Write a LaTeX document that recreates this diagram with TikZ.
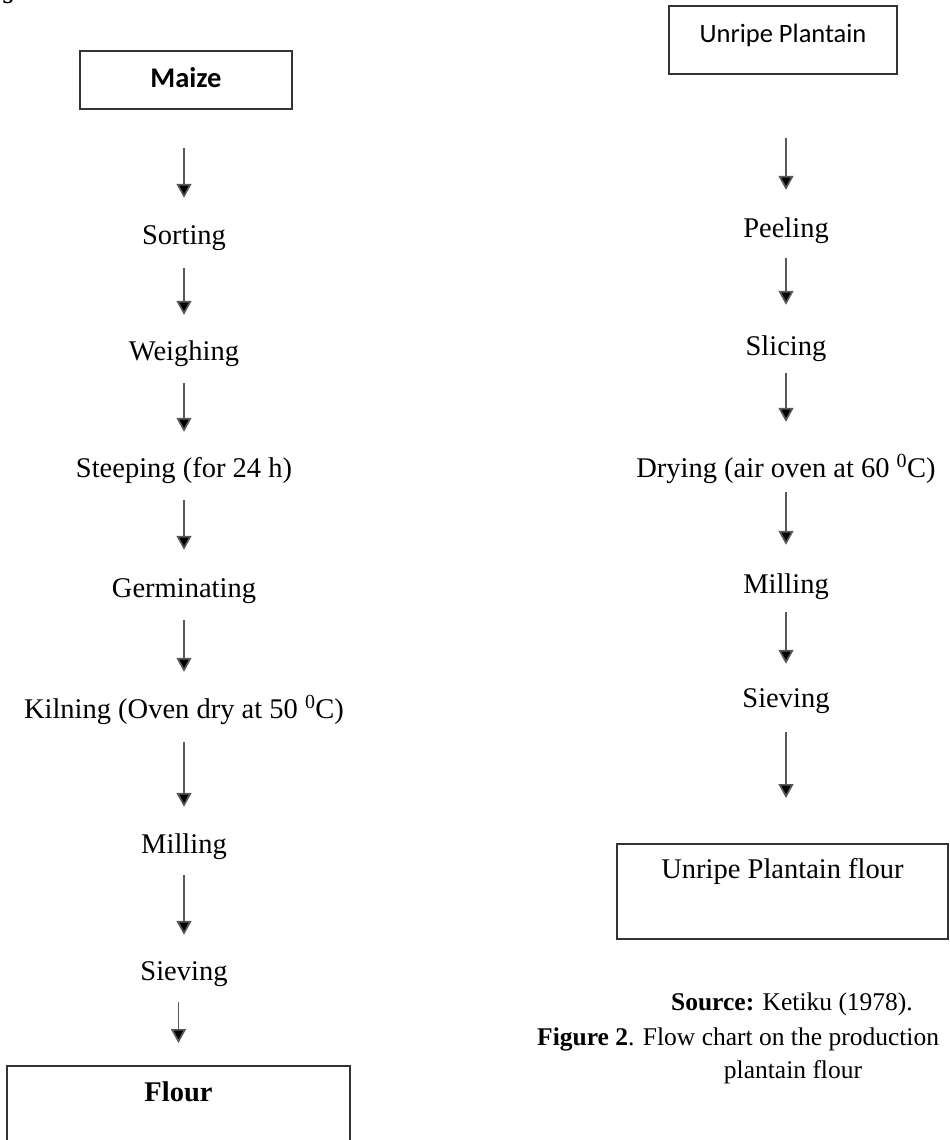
\documentclass[tikz,border=0pt]{standalone}
\usepackage{fontspec}
\setmainfont{Liberation Serif}
\newfontfamily\calfont{Carlito}
\usetikzlibrary{arrows.meta}
\tikzset{
  stepnode/.style={inner sep=0pt, text height=20pt, text depth=6pt, anchor=base,
    font=\fontsize{28.5}{34}\selectfont},
  boxnode/.style={draw=black!80, line width=2pt, inner xsep=0pt, inner ysep=0pt, anchor=north},
  flow/.style={draw=black!65, line width=1.7pt, -{Triangle[width=15pt,length=14pt,fill=black]}},
  captext/.style={inner sep=0pt, anchor=base, font=\fontsize{25.5}{30}\selectfont},
}
\begin{document}
\begin{tikzpicture}[x=1pt,y=-1pt]
\useasboundingbox (0,0) rectangle (950,1140);
\clip (0,0) rectangle (950,1140);
\node[inner sep=0pt, anchor=base, font=\fontsize{28}{34}\selectfont\bfseries] (frag) at (8,4) {s};
% ---------- left column ----------
\node[boxnode, minimum width=212pt, text height=37pt, text depth=21pt,
      font=\calfont\bfseries\fontsize{28.5}{34}\selectfont] (maize) at (186,50) {Maize};
\node[stepnode] (sort)  at (184,244) {Sorting};
\node[stepnode] (weigh) at (184,360) {Weighing};
\node[stepnode] (steep) at (184,477) {Steeping (for 24 h)};
\node[stepnode] (germ)  at (184,597) {Germinating};
\node[stepnode] (kiln)  at (184,718) {Kilning (Oven dry at 50 \textsuperscript{0}C)};
\node[stepnode] (millL) at (184,853) {Milling};
\node[stepnode] (sievL) at (184,980) {Sieving};
\node[boxnode, minimum width=343pt, text height=35pt, text depth=60pt,
      font=\bfseries\fontsize{28.5}{34}\selectfont] (flour) at (178.5,1065) {Flour};
\draw[flow, shorten <=38pt, shorten >=26pt] (maize.south -| sort.north) -- (sort.north);
\draw[flow, shorten <=18pt, shorten >=25pt] (sort.south) -- (weigh.north);
\draw[flow, shorten <=17pt, shorten >=25pt] (weigh.south) -- (steep.north);
\draw[flow, shorten <=17pt, shorten >=27pt] (steep.south) -- (germ.north);
\draw[flow, shorten <=17pt, shorten >=26pt] (germ.south) -- (kiln.north);
\draw[flow, shorten <=18pt, shorten >=26pt] (kiln.south) -- (millL.north);
\draw[flow, shorten <=16pt, shorten >=25pt] (millL.south) -- (sievL.north);
\draw[flow, shorten <=16pt, shorten >=22pt] (sievL.south -| flour.north) -- (flour.north);
% ---------- right column ----------
\node[boxnode, minimum width=228pt, text height=36.5pt, text depth=31.5pt,
      font=\calfont\fontsize{26.5}{32}\selectfont] (upl) at (783,5) {Unripe Plantain};
\node[stepnode] (peel)  at (786,237) {Peeling};
\node[stepnode] (slice) at (786,355) {Slicing};
\node[stepnode] (dry)   at (786,477) {Drying (air oven at 60 \textsuperscript{0}C)};
\node[stepnode] (millR) at (786,593) {Milling};
\node[stepnode] (sievR) at (786,707) {Sieving};
\node[boxnode, minimum width=331pt, text height=34pt, text depth=61pt,
      font=\fontsize{28.5}{34}\selectfont] (upf) at (782.5,843) {Unripe Plantain flour};
\draw[flow, shorten <=63pt, shorten >=27pt] (upl.south -| peel.north) -- (peel.north);
\draw[flow, shorten <=15pt, shorten >=30pt] (peel.south) -- (slice.north);
\draw[flow, shorten <=12pt, shorten >=35pt] (slice.south) -- (dry.north);
\draw[flow, shorten <=9pt, shorten >=28pt] (dry.south) -- (millR.north);
\draw[flow, shorten <=13pt, shorten >=23pt] (millR.south) -- (sievR.north);
\draw[flow, shorten <=19pt, shorten >=45pt] (sievR.south) -- (sievR.south |- upf.north);
% ---------- caption ----------
\node[captext] (src) at (792,1010) {\textbf{Source:} Ketiku (1978).};
\node[captext, anchor=base west] (fig) at (537,1045) {\textbf{Figure 2}. Flow chart on the production};
\node[captext] (pf) at (793,1078) {plantain flour};
\end{tikzpicture}
\end{document}
